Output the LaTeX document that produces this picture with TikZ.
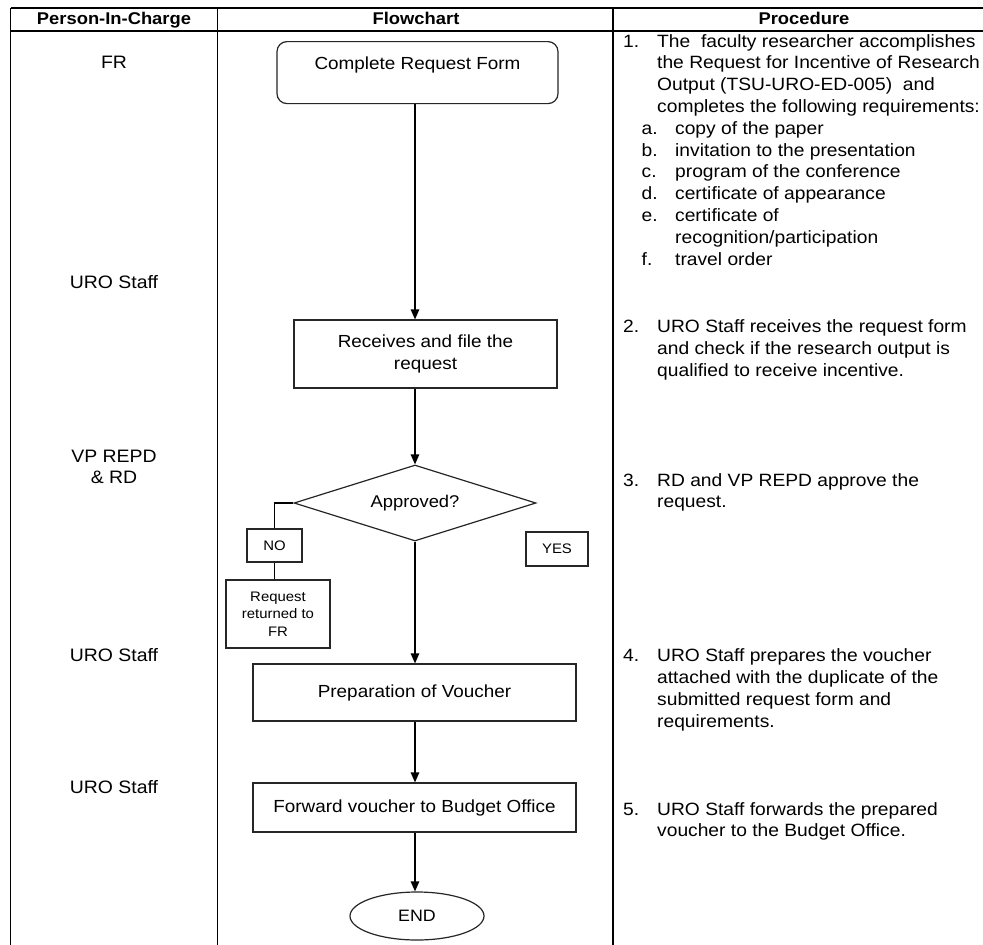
\documentclass[tikz,border=0pt]{standalone}
\usepackage{fontspec}
\setmainfont{Liberation Sans}[FakeStretch=1.08]
\usetikzlibrary{arrows.meta,shapes.geometric}

% helpers for the procedure column: number / hanging text / lettered sub-items
\newcommand\pnum[2]{\makebox[34pt][l]{#1}#2}
\newcommand\pcont[1]{\hspace*{34pt}#1}
\newcommand\psub[2]{\hspace*{18.5pt}\makebox[33.5pt][l]{#1}#2}
\newcommand\psubcont[1]{\hspace*{52pt}#1}
\newcommand\proctext[1]{\parbox[t]{360pt}{\fontsize{17.8}{21.8}\selectfont\setlength\parindent{0pt}#1}}

\begin{document}
\begin{tikzpicture}[x=1pt,y=-1pt,
  rule/.style={line width=1.3pt,black},
  head/.style={anchor=base,font=\fontsize{17}{20}\selectfont\bfseries},
  role/.style={font=\fontsize{18}{21.5}\selectfont,align=center},
  box/.style={draw=black!85,line width=1.2pt,rectangle,inner sep=0pt,
    font=\fontsize{17.5}{21.4}\selectfont},
  decision/.style={draw=black!85,line width=1.2pt,diamond,aspect=3.18,
    minimum width=242pt,minimum height=76pt,inner sep=0pt,
    font=\fontsize{17}{20}\selectfont},
  tag/.style={draw=black!85,line width=1.2pt,rectangle,inner sep=0pt,
    font=\fontsize{13.8}{17}\selectfont},
  terminal/.style={draw=black!85,line width=1.2pt,ellipse,inner sep=0pt,
    minimum width=134pt,minimum height=48pt,font=\fontsize{16.5}{20}\selectfont},
  arr/.style={line width=1.2pt,-{Triangle[length=10pt,width=8.5pt]}},
  link/.style={line width=1.2pt},
  step text/.style={anchor=base west,inner sep=0pt}
]
\useasboundingbox (0,0) rectangle (983,945);
\fill[white] (0,0) rectangle (983,945);

% table grid
\draw[rule] (10.5,8) -- (983,8);
\draw[rule] (10.5,31) -- (983,31);
\draw[rule] (10.5,8) -- (10.5,945);
\draw[rule] (217.5,8) -- (217.5,945);
\draw[rule] (613,8) -- (613,945);

% column headings
\node[head] (h1) at (114,24.5) {Person-In-Charge};
\node[head] (h2) at (416,24.5) {Flowchart};
\node[head] (h3) at (804,24.5) {Procedure};

% persons in charge
\node[role,anchor=base] (r1) at (114,68) {FR};
\node[role,anchor=base] (r2) at (114,288) {URO Staff};
\node[role] (r3) at (114,467) {VP REPD\\\& RD};
\node[role,anchor=base] (r4) at (114,661) {URO Staff};
\node[role,anchor=base] (r5) at (114,793) {URO Staff};

% flowchart
\coordinate (spine) at (415,0);
\node[box,rounded corners=10pt,minimum width=281pt,text height=28pt,
  text depth=34pt,anchor=north] (crf) at (417.5,41) {Complete Request Form};
\node[box,align=center,minimum width=263pt,minimum height=68pt] (rcv)
  at (425.5,354) {Receives and file the\\request};
\node[decision] (dec) at (415,503) {Approved?};
\node[tag,minimum width=55pt,minimum height=33pt] (no) at (274.5,545.5) {NO};
\node[tag,minimum width=62pt,minimum height=34pt] (yes) at (557,549) {YES};
\node[box,align=center,minimum width=104pt,minimum height=68pt,
  font=\fontsize{13.8}{17.6}\selectfont] (ret) at (278,614) {Request\\returned to\\FR};
\node[box,minimum width=323pt,minimum height=57pt] (prep) at (414.5,692.5)
  {Preparation of Voucher};
\node[box,minimum width=323pt,minimum height=49pt] (fwd) at (414.5,807.5)
  {Forward voucher to Budget Office};
\node[terminal] (end) at (417,916) {END};

\draw[arr] (crf.south -| spine) -- (rcv.north -| spine);
\draw[arr] (rcv.south -| spine) -- (dec.north);
\draw[arr] (dec.south) -- (prep.north -| dec.south);
\draw[arr] (prep.south -| spine) -- (fwd.north -| spine);
\draw[arr] (fwd.south -| spine) -- (end.north -| spine);
\draw[link] (dec.west) -| (no.north);
\draw[link] (no.south) -- (no.south |- ret.north);

% procedure steps
\node[step text] (s1) at (623,47) {\proctext{%
  \pnum{1.}{The\ \ faculty researcher accomplishes}\\
  \pcont{the Request for Incentive of Research}\\
  \pcont{Output (TSU-URO-ED-005)\ \ and}\\
  \pcont{completes the following requirements:}\\
  \psub{a.}{copy of the paper}\\
  \psub{b.}{invitation to the presentation}\\
  \psub{c.}{program of the conference}\\
  \psub{d.}{certificate of appearance}\\
  \psub{e.}{certificate of}\\
  \psubcont{recognition/participation}\\
  \psub{f.}{travel order}}};
\node[step text] (s2) at (623,332.7) {\proctext{%
  \pnum{2.}{URO Staff receives the request form}\\
  \pcont{and check if the research output is}\\
  \pcont{qualified to receive incentive.}}};
\node[step text] (s3) at (623,486) {\proctext{%
  \pnum{3.}{RD and VP REPD approve the}\\
  \pcont{request.}}};
\node[step text] (s4) at (623,661.7) {\proctext{%
  \pnum{4.}{URO Staff prepares the voucher}\\
  \pcont{attached with the duplicate of the}\\
  \pcont{submitted request form and}\\
  \pcont{requirements.}}};
\node[step text] (s5) at (623,815) {\proctext{%
  \pnum{5.}{URO Staff forwards the prepared}\\
  \pcont{voucher to the Budget Office.}}};
\end{tikzpicture}
\end{document}
